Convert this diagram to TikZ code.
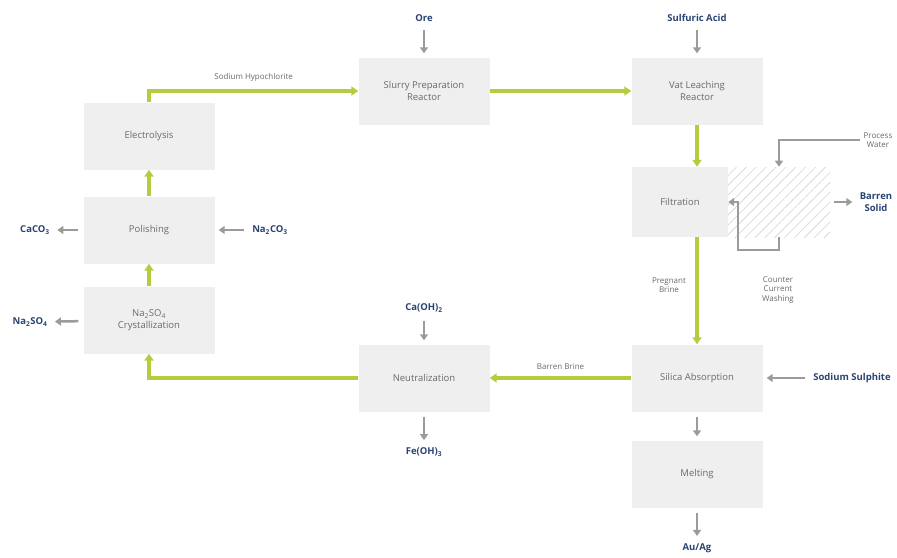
\documentclass[tikz,border=0pt]{standalone}
\usepackage{fontspec}
\setmainfont{Open Sans}
\usetikzlibrary{positioning,arrows.meta,patterns.meta}
\definecolor{boxgray}{HTML}{EFEFEF}
\definecolor{flowgreen}{HTML}{B5CC3E}
\definecolor{sidegray}{HTML}{9B9B9B}
\definecolor{chemblue}{HTML}{2A4472}
\definecolor{txtgray}{HTML}{6A6A6A}

\begin{document}
\begin{tikzpicture}[
      x=1pt, y=-1pt,
      font=\fontsize{9.5}{11.5}\selectfont,
      unit/.style={fill=boxgray, minimum width=131pt, minimum height=67pt,
                   align=center, text=txtgray, inner sep=2pt},
      chem/.style={text=chemblue, font=\fontsize{9.5}{11.5}\selectfont\bfseries, align=center},
      tag/.style={text=txtgray, font=\fontsize{8}{9.5}\selectfont, align=center},
      main/.style={draw=flowgreen, line width=3.5pt,
                   -{Triangle[length=7pt,width=9pt]}},
      side/.style={draw=sidegray, line width=2.5pt,
                   -{Triangle[length=6pt,width=8pt]},
                   shorten <=5pt, shorten >=4pt}
    ]
    \useasboundingbox (0,0) rectangle (897,557);

    % process units
    \node[unit] (slurry) at (424,91)  {Slurry Preparation\\Reactor};
    \node[unit] (vat)    at (697,91)  {Vat Leaching\\Reactor};
    \node[unit, minimum width=96pt, minimum height=70pt] (filt) at (680,202) {Filtration};
    \node[unit] (silica) at (697,378) {Silica Absorption};
    \node[unit] (melt)   at (697,474) {Melting};
    \node[unit] (neut)   at (424,378) {Neutralization};
    \node[unit] (cryst)  at (149,320) {Na\textsubscript{2}SO\textsubscript{4}\\Crystallization};
    \node[unit] (polish) at (149,230) {Polishing};
    \node[unit] (elec)   at (149,136) {Electrolysis};

    % washing zone
    \node[pattern={Lines[angle=45,distance=7pt,line width=0.6pt]}, pattern color=gray!35,
          minimum width=102pt, minimum height=70pt, inner sep=0pt] (wash) at (779,202) {};

    % feeds and products
    \node[chem] (ore)    at (424,18)  {Ore};
    \node[chem] (acid)   at (697,18)  {Sulfuric Acid};
    \node[chem] (caoh)   at (424,308) {Ca(OH)\textsubscript{2}};
    \node[chem] (feoh)   at (424,452) {Fe(OH)\textsubscript{3}};
    \node[chem] (naco)   at (270,230) {Na\textsubscript{2}CO\textsubscript{3}};
    \node[chem] (caco)   at (35,230)  {CaCO\textsubscript{3}};
    \node[chem] (naso)   at (30,322)  {Na\textsubscript{2}SO\textsubscript{4}};
    \node[chem] (sulph)  at (852,378) {Sodium Sulphite};
    \node[chem] (auag)   at (697,548) {Au/Ag};
    \node[chem] (solid)  at (876,202) {Barren\\Solid};
    \node[tag]  (water)  at (878,140) {Process\\Water};

    \draw[side] (ore) -- (slurry);
    \draw[side] (acid) -- (vat);
    \draw[side] (caoh) -- (neut);
    \draw[side] (neut) -- (feoh);
    \draw[side] (naco) -- (polish);
    \draw[side] (polish) -- (caco);
    \draw[side] (cryst) -- (naso);
    \draw[side] (sulph) -- (silica);
    \draw[side] (silica) -- (melt);
    \draw[side] (melt) -- (auag);
    \draw[side, shorten <=4pt] (wash) -- (solid);
    \draw[side, shorten <=0pt, shorten >=0pt] (water.west) -| (wash.north);

    % counter current washing loop
    \coordinate (ccw) at (738,250);
    \draw[side, shorten <=0pt, shorten >=0pt] (wash.south) |- (ccw) |- (filt.east);
    \node[tag] (ccwtxt) at (778,290) {Counter\\Current\\Washing};

    % main flow
    \draw[main] (elec.north) |- (slurry.west)
      node[tag, pos=0.75, above=4pt] (hypo) {Sodium Hypochlorite};
    \draw[main] (slurry.east) -- (vat.west);
    \draw[main] (vat.south) -- (vat.south|-filt.north);
    \draw[main] (silica.north|-filt.south) -- (silica.north)
      node[tag, pos=0.45, left=6pt] (preg) {Pregnant\\Brine};
    \draw[main] (silica.west) -- (neut.east)
      node[tag, midway, above=3pt] (barren) {Barren Brine};
    \draw[main] (neut.west) -| (cryst.south);
    \draw[main] (cryst.north) -- (polish.south);
    \draw[main] (polish.north) -- (elec.south);
  \end{tikzpicture}
\end{document}
